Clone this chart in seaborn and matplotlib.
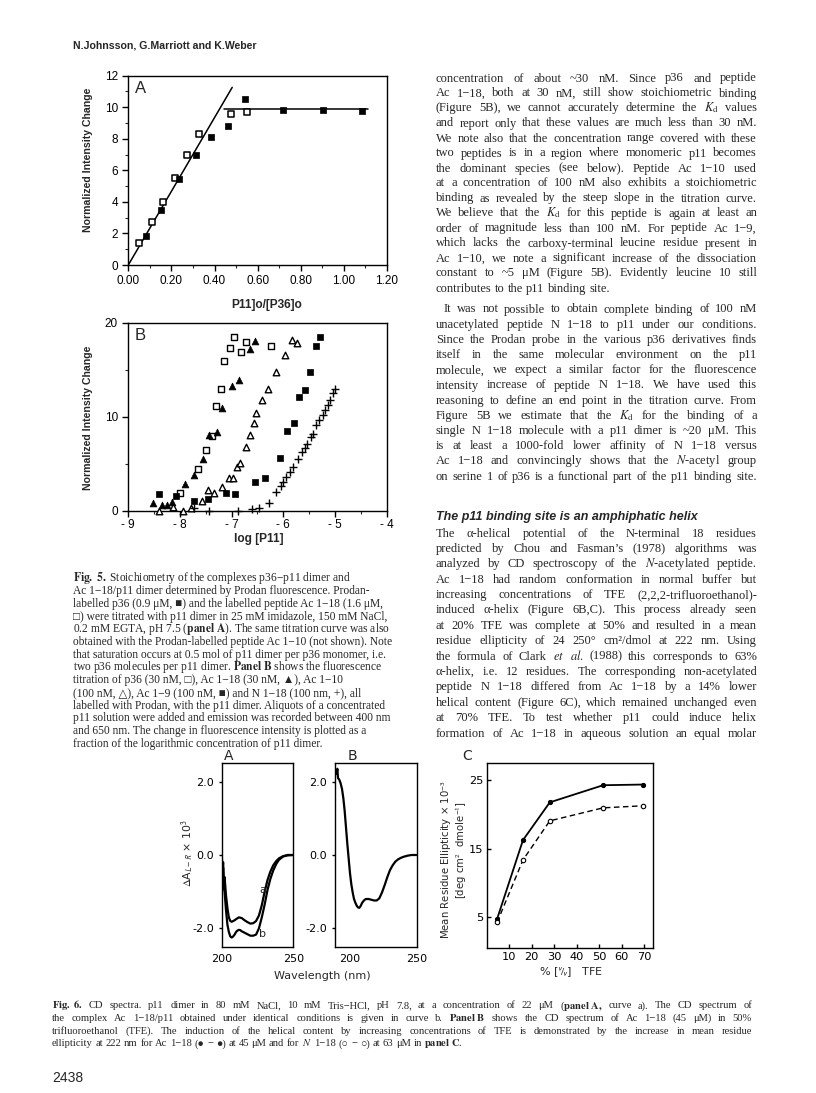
import numpy as np
import pandas as pd
import seaborn as sns
import matplotlib.pyplot as plt

W, H = 816, 1093
SERIF = ['Liberation Serif', 'DejaVu Serif', 'DejaVu Sans']
SANS = ['Liberation Sans', 'DejaVu Sans']

# ---- Fig. 5A: intensity change vs [p11]o/[p36]o
a_p36_x = [0.080, 0.152, 0.234, 0.312, 0.382, 0.463, 0.542, 0.717, 0.902, 1.082]
a_p36_y = [1.84, 3.49, 5.43, 7.00, 8.13, 8.83, 10.50, 9.80, 9.80, 9.76]
a_ac118_x = [0.051, 0.109, 0.163, 0.218, 0.274, 0.326, 0.478, 0.549]
a_ac118_y = [1.37, 2.70, 4.00, 5.50, 7.00, 8.30, 9.57, 9.72]
fit_rise_x = [0.0, 0.482]
fit_rise_y = [0.0, 11.26]
fit_flat_x = [0.446, 1.112]
fit_flat_y = [9.9, 9.9]

# ---- Fig. 5B: intensity change vs log [p11]
b_p36_x = [-7.99, -7.66, -7.50, -7.38, -7.30, -7.20, -7.15, -7.03, -6.95, -6.81, -6.72, -6.24]
b_p36_y = [1.9, 4.4, 6.5, 7.9, 11.1, 13.0, 15.96, 17.3, 18.5, 16.85, 17.9, 17.5]
b_ac118_x = [-8.53, -8.34, -8.25, -8.15, -7.90, -7.73, -7.56, -7.44, -7.29, -7.19, -6.99, -6.86, -6.64, -6.54]
b_ac118_y = [0.79, 0.64, 0.60, 0.90, 2.84, 3.80, 5.50, 8.10, 8.40, 10.90, 13.30, 13.90, 17.20, 18.10]
b_ac110_x = [-8.41, -8.13, -7.94, -7.79, -7.58, -7.45, -7.34, -7.19, -7.06, -6.97, -6.90, -6.84,
             -6.73, -6.64, -6.56, -6.52, -6.41, -6.29, -6.15, -5.97, -5.84, -5.74]
b_ac110_y = [0.0, 0.43, 0.0, 0.26, 1.06, 2.2, 1.9, 2.5, 3.45, 3.45, 4.7, 5.04,
             6.8, 8.1, 9.36, 10.4, 11.8, 13.0, 14.8, 16.6, 18.2, 17.8]
b_ac19_x = [-8.41, -8.08, -7.73, -7.45, -7.11, -6.94, -6.55, -6.35, -6.07, -5.92, -5.79, -5.70,
            -5.59, -5.48, -5.37, -5.29]
b_ac19_y = [1.74, 1.60, 1.03, 1.25, 1.85, 1.74, 3.10, 3.45, 5.60, 8.50, 9.36, 12.10,
            12.80, 14.80, 17.50, 18.50]
b_n118_x = [-7.72, -7.43, -6.87, -6.61, -6.48, -6.28, -6.15, -6.04, -6.00, -5.95, -5.88, -5.82,
            -5.72, -5.64, -5.58, -5.54, -5.46, -5.42, -5.36, -5.31, -5.24, -5.19, -5.14, -5.10,
            -5.04, -5.00]
b_n118_y = [0.3, 0.0, 0.0, 0.15, 0.3, 0.8, 2.0, 2.6, 3.1, 3.6, 4.15, 4.7,
            5.5, 6.2, 6.7, 7.1, 7.8, 8.16, 9.1, 9.6, 10.2, 10.7, 11.2, 11.8,
            12.5, 12.9]

# ---- Fig. 6A: CD spectra, curve a (p11) and curve b (complex)
cd_a_nm = [200, 200.5, 201, 201.5, 202, 203, 204, 205, 206, 207, 208, 209, 210, 212, 214, 216,
           218, 220, 222, 224, 226, 228, 230, 232, 234, 236, 238, 240, 243, 246, 250]
cd_a_val = [0.1, -0.45, -0.2, -0.75, -0.6, -1.1, -1.45, -1.7, -1.8, -1.82, -1.8, -1.78, -1.75,
            -1.7, -1.72, -1.78, -1.83, -1.87, -1.86, -1.8, -1.65, -1.37, -1.0, -0.68, -0.45,
            -0.28, -0.17, -0.09, -0.03, 0.0, 0.0]
cd_b_nm = [200, 200.5, 201, 201.5, 202, 203, 204, 205, 206, 207, 208, 209, 210, 211, 212, 213,
           214, 216, 218, 220, 222, 224, 226, 228, 230, 232, 234, 236, 238, 240, 243, 246, 250]
cd_b_val = [0.0, -0.6, -0.35, -0.9, -1.0, -1.5, -1.9, -2.1, -2.22, -2.25, -2.22, -2.17, -2.1,
            -2.06, -2.04, -2.05, -2.08, -2.12, -2.16, -2.2, -2.2, -2.17, -2.0, -1.7, -1.35,
            -0.95, -0.65, -0.42, -0.25, -0.13, -0.04, -0.01, 0.0]

# ---- Fig. 6B: Ac 1-18 in 50% TFE
cd_tfe_nm = [189, 189.5, 190, 190.5, 191, 192, 193, 194, 195, 196, 197, 198, 199, 200, 201, 202,
             203, 204, 205, 206, 207, 208, 209, 210, 211, 212, 214, 216, 218, 220, 222, 224,
             226, 228, 230, 232, 234, 236, 238, 240, 243, 246, 250]
cd_tfe_val = [2.2, 2.3, 2.22, 2.35, 2.1, 2.05, 1.95, 1.8, 1.55, 1.2, 0.75, 0.3, -0.1, -0.5, -0.8,
              -1.02, -1.2, -1.3, -1.38, -1.43, -1.44, -1.39, -1.31, -1.26, -1.22, -1.2, -1.2,
              -1.22, -1.24, -1.24, -1.18, -1.02, -0.82, -0.6, -0.41, -0.28, -0.18, -0.12,
              -0.08, -0.05, -0.02, 0.0, 0.0]

# ---- Fig. 6C: mean residue ellipticity vs % TFE
tfe_pct = [4.7, 16.2, 28.1, 51.8, 69.6]
ell_ac118 = [4.8, 16.3, 21.8, 24.3, 24.4]
ell_n118 = [4.3, 13.4, 19.1, 21.0, 21.3]

# ---- page text
header = "N.Johnsson, G.Marriott and K.Weber"
para1 = [
    "concentration of about ~30 nM. Since p36 and peptide",
    "Ac 1−18, both at 30 nM, still show stoichiometric binding",
    r"(Figure 5B), we cannot accurately determine the $K_\mathrm{d}$ values",
    "and report only that these values are much less than 30 nM.",
    "We note also that the concentration range covered with these",
    "two peptides is in a region where monomeric p11 becomes",
    "the dominant species (see below). Peptide Ac 1−10 used",
    "at a concentration of 100 nM also exhibits a stoichiometric",
    "binding as revealed by the steep slope in the titration curve.",
    r"We believe that the $K_\mathrm{d}$ for this peptide is again at least an",
    "order of magnitude less than 100 nM. For peptide Ac 1−9,",
    "which lacks the carboxy-terminal leucine residue present in",
    "Ac 1−10, we note a significant increase of the dissociation",
    "constant to ~5 μM (Figure 5B). Evidently leucine 10 still",
    "contributes to the p11 binding site.",
]
para2 = [
    "It was not possible to obtain complete binding of 100 nM",
    "unacetylated peptide N 1−18 to p11 under our conditions.",
    "Since the Prodan probe in the various p36 derivatives finds",
    "itself in the same molecular environment on the p11",
    "molecule, we expect a similar factor for the fluorescence",
    "intensity increase of peptide N 1−18. We have used this",
    "reasoning to define an end point in the titration curve. From",
    r"Figure 5B we estimate that the $K_\mathrm{d}$ for the binding of a",
    "single N 1−18 molecule with a p11 dimer is ~20 μM. This",
    "is at least a 1000-fold lower affinity of N 1−18 versus",
    r"Ac 1−18 and convincingly shows that the $\mathit{N}$-acetyl group",
    "on serine 1 of p36 is a functional part of the p11 binding site.",
]
heading = "The p11 binding site is an amphiphatic helix"
para3 = [
    "The α-helical potential of the N-terminal 18 residues",
    "predicted by Chou and Fasman’s (1978) algorithms was",
    r"analyzed by CD spectroscopy of the $\mathit{N}$-acetylated peptide.",
    "Ac 1−18 had random conformation in normal buffer but",
    "increasing concentrations of TFE (2,2,2-trifluoroethanol)-",
    "induced α-helix (Figure 6B,C). This process already seen",
    "at 20% TFE was complete at 50% and resulted in a mean",
    "residue ellipticity of 24 250° cm²/dmol at 222 nm. Using",
    r"the formula of Clark $\mathit{et}$ $\mathit{al.}$ (1988) this corresponds to 63%",
    "α-helix, i.e. 12 residues. The corresponding non-acetylated",
    "peptide N 1−18 differed from Ac 1−18 by a 14% lower",
    "helical content (Figure 6C), which remained unchanged even",
    "at 70% TFE. To test whether p11 could induce helix",
    "formation of Ac 1−18 in aqueous solution an equal molar",
]
caption5 = [
    r"$\mathbf{Fig.~5.}$ Stoichiometry of the complexes p36−p11 dimer and",
    "Ac 1−18/p11 dimer determined by Prodan fluorescence. Prodan-",
    "labelled p36 (0.9 μM, ■) and the labelled peptide Ac 1−18 (1.6 μM,",
    "□) were titrated with p11 dimer in 25 mM imidazole, 150 mM NaCl,",
    r"0.2 mM EGTA, pH 7.5 ($\mathbf{panel~A}$). The same titration curve was also",
    "obtained with the Prodan-labelled peptide Ac 1−10 (not shown). Note",
    "that saturation occurs at 0.5 mol of p11 dimer per p36 monomer, i.e.",
    r"two p36 molecules per p11 dimer. $\mathbf{Panel~B}$ shows the fluorescence",
    "titration of p36 (30 nM, □), Ac 1−18 (30 nM, ▲), Ac 1−10",
    "(100 nM, △), Ac 1−9 (100 nM, ■) and N 1−18 (100 nm, +), all",
    "labelled with Prodan, with the p11 dimer. Aliquots of a concentrated",
    "p11 solution were added and emission was recorded between 400 nm",
    "and 650 nm. The change in fluorescence intensity is plotted as a",
    "fraction of the logarithmic concentration of p11 dimer.",
]
caption6 = [
    r"$\mathbf{Fig.~6.}$ CD spectra. p11 dimer in 80 mM NaCl, 10 mM Tris−HCl, pH 7.8, at a concentration of 22 μM ($\mathbf{panel~A,}$ curve a). The CD spectrum of",
    r"the complex Ac 1−18/p11 obtained under identical conditions is given in curve b. $\mathbf{Panel~B}$ shows the CD spectrum of Ac 1−18 (45 μM) in 50%",
    "trifluoroethanol (TFE). The induction of the helical content by increasing concentrations of TFE is demonstrated by the increase in mean residue",
    r"ellipticity at 222 nm for Ac 1−18 (● − ●) at 45 μM and for $\mathit{N}$ 1−18 (○ − ○) at 63 μM in $\mathbf{panel~C}$.",
]
page_no = "2438"

sns.set_style("ticks")
plt.rcParams['font.family'] = SANS
plt.rcParams['mathtext.fontset'] = 'stix'
plt.rcParams['axes.linewidth'] = 1.0
plt.rcParams['xtick.direction'] = 'out'
plt.rcParams['ytick.direction'] = 'out'

fig = plt.figure(figsize=(W / 100, H / 100), dpi=100)
fig.patch.set_facecolor('white')
renderer = fig.canvas.get_renderer()


def px_axes(l, t, r, b):
    return fig.add_axes([l / W, 1 - b / H, (r - l) / W, (b - t) / H])


def ptext(x, y, s, **kw):
    return fig.text(x / W, 1 - y / H, s, **kw)


def text_line(x0, x1, y, line, size, justify=True, indent=0, family=SERIF):
    # place words one by one so the line can be justified to the column width
    words = line.split(' ')
    arts = [ptext(0, y, w, fontsize=size, family=family, va='baseline') for w in words]
    widths = [a.get_window_extent(renderer).width for a in arts]
    space = size * 100 / 72 * 0.25
    if justify and len(words) > 1:
        gap = max((x1 - x0 - indent - sum(widths)) / (len(words) - 1), 1.5)
    else:
        gap = space
    x = x0 + indent
    for a, w in zip(arts, widths):
        a.set_x(x / W)
        x += w + gap


def style_ax(ax, size=8.5):
    for s in ax.spines.values():
        s.set_visible(True)
        s.set_color('black')
    ax.tick_params(which='major', length=4, width=1, labelsize=size, colors='black')
    ax.tick_params(which='minor', length=2.5, width=0.8)


# ---------------- Fig. 5A
ax = px_axes(128.3, 75.7, 387, 265)
sns.lineplot(x=fit_rise_x, y=fit_rise_y, color='black', lw=1.1, estimator=None, sort=False, ax=ax)
sns.lineplot(x=fit_flat_x, y=fit_flat_y, color='black', lw=1.1, estimator=None, sort=False, ax=ax)
sns.scatterplot(x=a_ac118_x, y=a_ac118_y, marker='s', s=24, color='white', edgecolor='black',
                linewidth=1.1, ax=ax, zorder=3, clip_on=False)
sns.scatterplot(x=a_p36_x, y=a_p36_y, marker='s', s=24, color='black', edgecolor='black',
                linewidth=0.5, ax=ax, zorder=3, clip_on=False)
ax.set_xlim(0, 1.2)
ax.set_ylim(0, 12)
ax.set_xticks(np.arange(0, 1.21, 0.2))
ax.set_xticklabels([f"{v:.2f}" for v in np.arange(0, 1.21, 0.2)])
ax.set_xticks(np.arange(0, 1.21, 0.1), minor=True)
ax.set_yticks(range(0, 13, 2))
ax.set_yticks(range(0, 13, 1), minor=True)
style_ax(ax)
ax.tick_params(axis='x', pad=3)
ax.set_xlabel('')
ax.set_ylabel('')
ax.text(0.025, 0.97, 'A', transform=ax.transAxes, fontsize=12, va='top', ha='left')
ptext(88, 160, 'Normalized Intensity Change', rotation=90, ha='center', va='center',
      fontsize=7.6, weight='bold')
ptext(266.7, 305, 'P11]o/[P36]o', ha='center', va='center', fontsize=8.6, weight='bold')

# ---------------- Fig. 5B
ax = px_axes(128.3, 322.7, 386.7, 510.7)
sns.scatterplot(x=b_p36_x, y=b_p36_y, marker='s', s=18, color='white', edgecolor='black',
                linewidth=1.0, ax=ax, zorder=3, clip_on=False)
sns.scatterplot(x=b_ac118_x, y=b_ac118_y, marker='^', s=24, color='black', edgecolor='black',
                linewidth=0.5, ax=ax, zorder=3, clip_on=False)
sns.scatterplot(x=b_ac110_x, y=b_ac110_y, marker='^', s=22, color='white', edgecolor='black',
                linewidth=1.0, ax=ax, zorder=3, clip_on=False)
sns.scatterplot(x=b_ac19_x, y=b_ac19_y, marker='s', s=22, color='black', edgecolor='black',
                linewidth=0.5, ax=ax, zorder=3, clip_on=False)
sns.scatterplot(x=b_n118_x, y=b_n118_y, marker='+', s=26, color='black',
                linewidth=1.0, ax=ax, zorder=3, clip_on=False)
ax.set_xlim(-9, -4)
ax.set_ylim(0, 20)
ax.set_xticks(range(-9, -3))
ax.set_xticklabels([f"- {abs(v)}" for v in range(-9, -3)])
ax.set_xticks(np.arange(-9, -3.9, 0.5), minor=True)
ax.set_yticks([0, 10, 20])
ax.set_yticks([5, 15], minor=True)
style_ax(ax)
ax.tick_params(axis='x', pad=2)
ax.set_xlabel('')
ax.set_ylabel('')
ax.text(0.025, 0.97, 'B', transform=ax.transAxes, fontsize=12, va='top', ha='left')
ptext(88, 418, 'Normalized Intensity Change', rotation=90, ha='center', va='center',
      fontsize=7.6, weight='bold')
ptext(258.3, 539, 'log [P11]', ha='center', va='center', fontsize=8.6, weight='bold')

# ---------------- Fig. 6A / 6B
CD = ['DejaVu Sans']
ax_a = px_axes(221.7, 763.3, 293.3, 946.7)
sns.lineplot(x=cd_a_nm, y=cd_a_val, color='black', lw=1.6, estimator=None, sort=False, ax=ax_a)
sns.lineplot(x=cd_b_nm, y=cd_b_val, color='black', lw=1.6, estimator=None, sort=False, ax=ax_a)
ax_a.text(228.5, -0.95, 'a', fontsize=8, family=CD, ha='center', va='center')
ax_a.text(228.5, -2.15, 'b', fontsize=8, family=CD, ha='center', va='center')
ax_b = px_axes(335, 763.3, 416.7, 946.7)
sns.lineplot(x=cd_tfe_nm, y=cd_tfe_val, color='black', lw=1.6, estimator=None, sort=False, ax=ax_b)
ax_a.set_xlim(200, 250)
ax_b.set_xlim(188.75, 250)
for a in (ax_a, ax_b):
    a.set_ylim(-2.5, 2.5)
    a.set_xticks([200, 250])
    a.set_yticks([-2, 0, 2])
    a.set_yticklabels(['-2.0', '0.0', '2.0'], family=CD)
    a.set_xticklabels(['200', '250'], family=CD)
    style_ax(a, size=8)
    a.tick_params(axis='x', length=0, pad=5)
    a.tick_params(axis='y', length=2.5, pad=3)
    a.set_xlabel('')
    a.set_ylabel('')
ptext(188, 853, r'$\Delta$A$_{\mathsf{L-R}}$ × 10$^{\mathsf{3}}$', rotation=90, ha='center',
      va='center', fontsize=7.8, family=CD)
ptext(322, 976, 'Wavelength (nm)', ha='center', va='center', fontsize=8, family=CD)
ptext(229, 756, 'A', ha='center', va='center', fontsize=10, family=CD)
ptext(352, 756, 'B', ha='center', va='center', fontsize=10, family=CD)

# ---------------- Fig. 6C
ax = px_axes(487, 763.3, 653.3, 948.3)
sns.lineplot(x=tfe_pct, y=ell_ac118, color='black', lw=1.3, marker='o', markersize=3,
             markerfacecolor='black', markeredgecolor='black', estimator=None, sort=False, ax=ax)
sns.lineplot(x=tfe_pct, y=ell_n118, color='black', lw=1.0, linestyle=(0, (4, 2.5)), marker='o',
             markersize=3.2, markerfacecolor='white', markeredgecolor='black',
             markeredgewidth=0.8, estimator=None, sort=False, ax=ax)
ax.set_xlim(0.2, 74.1)
ax.set_ylim(0.5, 27.5)
ax.set_xticks(range(10, 71, 10))
ax.set_xticklabels([str(v) for v in range(10, 71, 10)], family=CD)
ax.set_yticks([5, 15, 25])
ax.set_yticklabels(['5', '15', '25'], family=CD)
style_ax(ax, size=8.2)
ax.tick_params(length=3, direction='in', pad=2.5)
ax.set_xlabel('')
ax.set_ylabel('')
ptext(447, 860, r'Mean Residue Ellipticity × 10$^{\mathsf{-3}}$', rotation=90, ha='center',
      va='center', fontsize=7.3, family=CD)
ptext(461, 850, r'[deg cm$^{\mathsf{2}}$  dmole$^{\mathsf{-1}}$]', rotation=90, ha='center',
      va='center', fontsize=7.3, family=CD)
ptext(571, 972, r'% [$^{\mathsf{v}}\!/\!_{\mathsf{v}}$]   TFE', ha='center', va='center',
      fontsize=8, family=CD)
ptext(467, 756, 'C', ha='center', va='center', fontsize=10, family=CD)

# ---------------- page text
ptext(73, 49, header, fontsize=7.6, weight='bold', family=SANS, va='baseline')

COL_L, COL_R = 436, 757
BODY = 9.0
y = 81.5
for i, line in enumerate(para1):
    text_line(COL_L, COL_R, y, line, BODY, justify=(i < len(para1) - 1))
    y += 15.0
y = 312.5
for i, line in enumerate(para2):
    text_line(COL_L, COL_R, y, line, BODY, indent=(8 if i == 0 else 0))
    y += 15.2
ptext(COL_L, 520.5, heading, fontsize=9.0, weight='bold', style='italic', family=SANS,
      va='baseline')
y = 536.5
for line in para3:
    text_line(COL_L, COL_R, y, line, BODY)
    y += 15.4

y = 581.5
for line in caption5:
    ptext(73, y, line, fontsize=8.3, family=SERIF, va='baseline')
    y += 12.7

y = 1008.5
for i, line in enumerate(caption6):
    text_line(52, 752, y, line, 7.6, justify=(i < 3))
    y += 12.6

ptext(52, 1082, page_no, fontsize=10, family=SANS, va='baseline')

fig.savefig('out.png', dpi=100, facecolor='white')
